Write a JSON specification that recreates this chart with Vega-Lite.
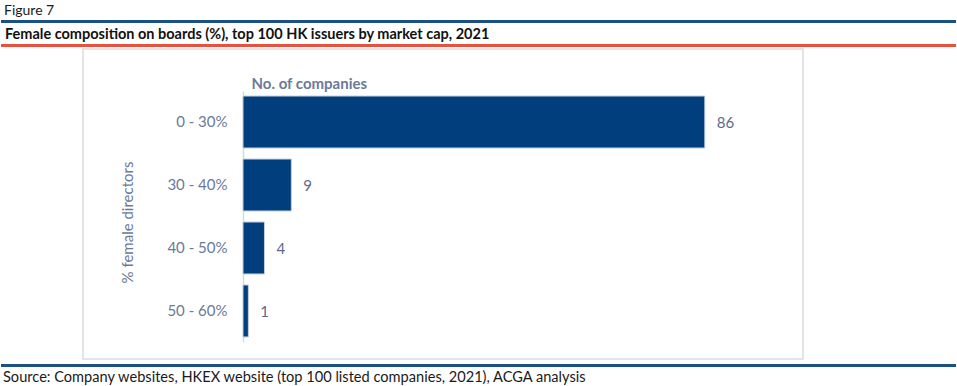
{
  "$schema": "https://vega.github.io/schema/vega-lite/v6.json",
  "padding": {"top": 3, "left": 0, "right": 0, "bottom": 0},
  "background": "white",
  "config": {"view": {"stroke": null}, "font": "Lato"},
  "data": {"values": [
    {"range": "0 - 30%", "count": 86},
    {"range": "30 - 40%", "count": 9},
    {"range": "40 - 50%", "count": 4},
    {"range": "50 - 60%", "count": 1}
  ]},
  "spacing": 3,
  "vconcat": [
    {
      "spacing": 4,
      "vconcat": [
        {
          "width": 955, "height": 3,
          "view": {"fill": "#1a5182", "stroke": null},
          "title": {"text": "Figure 7", "anchor": "start", "frame": "group", "baseline": "alphabetic", "offset": -9, "dx": 3, "font": "Lato", "fontSize": 14, "fontWeight": "normal", "color": "#1a1a1a"},
          "data": {"values": [{}]},
          "mark": {"type": "rule", "opacity": 0},
          "encoding": {}
        },
        {
          "spacing": 1,
          "vconcat": [
            {
              "width": 955, "height": 3,
              "view": {"fill": "#e8513e", "stroke": null},
              "title": {"text": "Female composition on boards (%),  top 100 HK issuers by market cap, 2021", "anchor": "start", "frame": "group", "baseline": "alphabetic", "offset": -10, "dx": 4, "font": "Lato", "fontSize": 14.5, "fontWeight": "bold", "color": "#111111"},
              "data": {"values": [{}]},
              "mark": {"type": "rule", "opacity": 0},
              "encoding": {}
            },
            {
              "spacing": 0,
              "hconcat": [
                {
                  "width": 81, "height": 310,
                  "view": {"stroke": null},
                  "data": {"values": [{}]},
                  "mark": {"type": "rule", "opacity": 0},
                  "encoding": {}
                },
                {
                  "width": 720, "height": 310,
                  "view": {"stroke": "#d9dbe0", "strokeWidth": 1.5, "fill": "white"},
                  "encoding": {
                    "y": {
                      "field": "range", "type": "nominal", "sort": null,
                      "scale": {"range": [42, 293], "paddingInner": 0.175, "paddingOuter": 0.08},
                      "axis": {
                        "orient": "left", "offset": -160,
                        "title": "% female directors",
                        "titleFont": "Lato", "titleFontSize": 15, "titleFontWeight": "normal", "titleColor": "#6b7a99",
                        "titleX": -108, "titleY": 173, "titleAngle": 270, "titleBaseline": "bottom", "titleAlign": "center",
                        "labelFont": "Lato", "labelFontSize": 15, "labelColor": "#6b7a99", "labelPadding": 16,
                        "ticks": false, "grid": false, "domainColor": "#d6d9df", "domainWidth": 1.5
                      }
                    },
                    "x": {
                      "field": "count", "type": "quantitative",
                      "scale": {"domain": [0, 100], "range": [160, 697]},
                      "axis": {
                        "orient": "top", "title": "No. of companies",
                        "labels": false, "ticks": false, "domain": false, "grid": false,
                        "titleFont": "Lato", "titleFontSize": 15, "titleFontWeight": "bold", "titleColor": "#6b7a99",
                        "titleX": 168, "titleY": 39, "titleAlign": "left", "titleBaseline": "alphabetic", "titleAnchor": "start"
                      }
                    }
                  },
                  "layer": [
                    {"mark": {"type": "bar", "color": "#003e7e", "stroke": "#c5cedb", "strokeWidth": 1}},
                    {
                      "mark": {"type": "text", "align": "left", "baseline": "middle", "dx": 12, "dy": 1, "font": "Lato", "fontSize": 15, "color": "#5d6b8a"},
                      "encoding": {"text": {"field": "count", "type": "quantitative"}}
                    }
                  ]
                }
              ]
            }
          ]
        }
      ]
    },
    {
      "width": 955, "height": 3,
      "view": {"fill": "#1a5182", "stroke": null},
      "title": {"text": "Source: Company websites, HKEX website (top 100 listed companies, 2021), ACGA analysis", "orient": "bottom", "anchor": "start", "frame": "group", "baseline": "alphabetic", "offset": 15, "dx": 2, "font": "Lato", "fontSize": 14.6, "fontWeight": "normal", "color": "#1a1a1a"},
      "data": {"values": [{}]},
      "mark": {"type": "rule", "opacity": 0},
      "encoding": {}
    }
  ]
}
